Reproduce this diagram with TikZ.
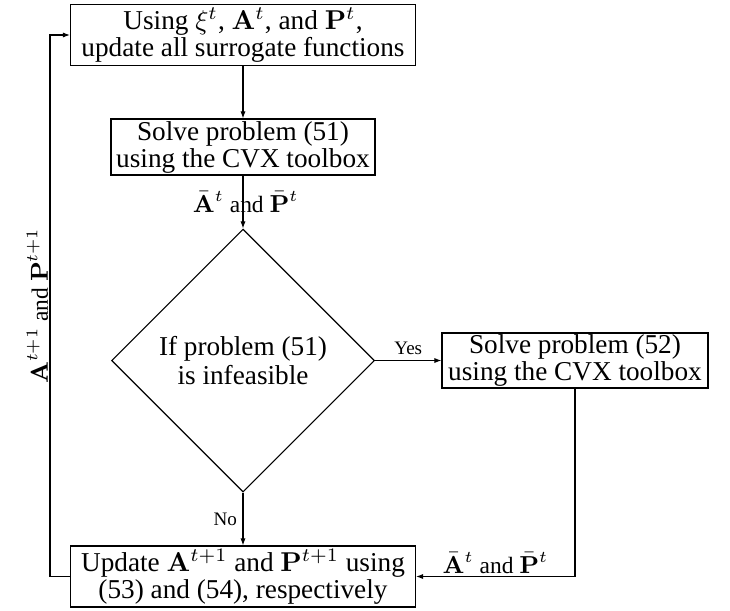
\documentclass[tikz,border=0pt]{standalone}
\usepackage[no-math]{fontspec}
\setmainfont{Liberation Serif}
\usetikzlibrary{shapes.geometric,arrows.meta}
\begin{document}
\begin{tikzpicture}[x=0.367pt,y=-0.367pt,
  box/.style={draw, rectangle, inner sep=0pt, align=center, line width=0.4pt, font=\fontsize{10}{9.9}\selectfont},
  dec/.style={draw, diamond, aspect=1, inner sep=0pt, align=center, line width=0.4pt, minimum width=96.5pt, minimum height=96.5pt, font=\fontsize{10}{10.8}\selectfont},
  arr/.style={-{Latex[length=2.6pt,width=1.9pt]}, line width=0.4pt},
  lbl/.style={font=\fontsize{8.6}{10}\selectfont, inner sep=1pt},
  yn/.style={font=\fontsize{7}{8.4}\selectfont, inner sep=2pt}]
\useasboundingbox (0,0) rectangle (730,610);
\node[box, minimum width=126.6pt, minimum height=22.2pt] (b1) at (243,35)
  {Using $\xi^t$, $\mathbf{A}^t$, and $\mathbf{P}^t$,\\ update all surrogate functions};
\node[box, minimum width=96.9pt, minimum height=20.55pt] (b2) at (243,147)
  {Solve problem (51)\\ using the CVX toolbox};
\node[dec] (d) at (243,360.5) {If problem (51)\\ is infeasible};
\node[box, minimum width=97.6pt, minimum height=20.2pt] (b3) at (575,360.5)
  {Solve problem (52)\\ using the CVX toolbox};
\node[box, minimum width=126.6pt, minimum height=22.4pt] (b4) at (243,576.5)
  {Update $\mathbf{A}^{t+1}$ and $\mathbf{P}^{t+1}$ using\\ (53) and (54), respectively};
\draw[arr] (b1) -- (b2);
\draw[arr] (b2) -- (d) node[midway, lbl, xshift=1pt] {$\bar{\mathbf{A}}^t$ and $\bar{\mathbf{P}}^t$};
\draw[arr] (d) -- (b3) node[midway, above, yn] {Yes};
\draw[arr] (d) -- (b4) node[midway, left, yn] {No};
\draw[arr] (b3.south) |- (b4.east) node[pos=0.75, above, lbl] {$\bar{\mathbf{A}}^t$ and $\bar{\mathbf{P}}^t$};
\draw[arr] (b4.west) -- ++(-20,0) coordinate (c1) -- (c1 |- b1.west)
  node[midway, above, sloped, lbl, inner sep=0.5pt] {$\mathbf{A}^{t+1}$ and $\mathbf{P}^{t+1}$} -- (b1.west);
\end{tikzpicture}
\end{document}
